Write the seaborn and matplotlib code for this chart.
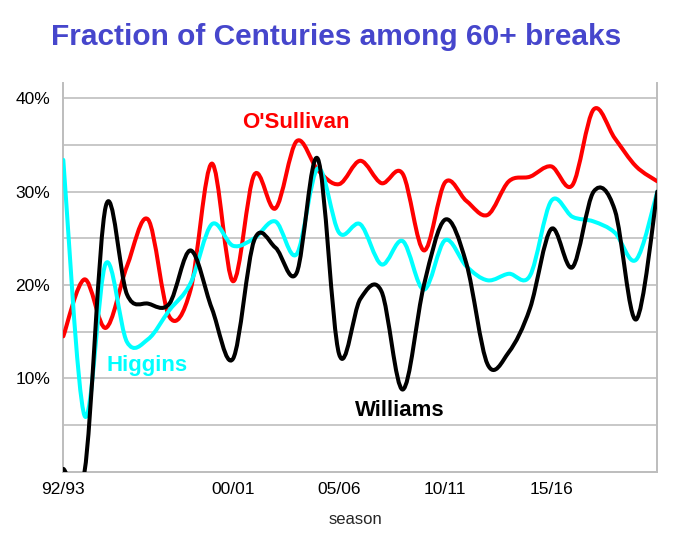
import numpy as np
import pandas as pd
import matplotlib
matplotlib.use("Agg")
import matplotlib.pyplot as plt
import seaborn as sns
from matplotlib.path import Path
from matplotlib.patches import PathPatch

# ---------------- data ----------------
seasons = ["92/93", "93/94", "94/95", "95/96", "96/97", "97/98", "98/99", "99/00",
           "00/01", "01/02", "02/03", "03/04", "04/05", "05/06", "06/07", "07/08",
           "08/09", "09/10", "10/11", "11/12", "12/13", "13/14", "14/15", "15/16",
           "16/17", "17/18", "18/19", "19/20", "20/21"]

osullivan = [14.5, 20.6, 15.4, 22.0, 27.0, 16.6, 19.5, 33.0, 20.4, 31.8,
             28.2, 35.4, 32.3, 30.8, 33.3, 30.9, 31.9, 23.7, 31.0, 29.0,
             27.5, 31.1, 31.6, 32.7, 30.7, 38.8, 35.7, 32.7, 31.1]

higgins = [33.4, 6.0, 22.3, 13.9, 14.2, 17.3, 20.2, 26.5, 24.2, 25.0,
           26.8, 23.3, 32.5, 25.6, 26.5, 22.2, 24.7, 19.5, 24.8, 22.0,
           20.5, 21.2, 21.0, 29.0, 27.3, 26.8, 25.6, 22.7, 30.0]

williams = [0.3, 0.0, 28.4, 19.0, 18.0, 18.0, 23.7, 17.5, 12.1, 24.8,
            24.0, 21.3, 33.5, 12.6, 18.5, 19.3, 8.8, 20.0, 27.0, 22.3,
            11.5, 12.8, 17.5, 26.0, 21.9, 30.0, 28.0, 16.3, 30.0]

players = ["O'Sullivan", "Higgins", "Williams"]
colors = ["#FF0000", "#00FFFF", "#000000"]
xtick_labels = ["92/93", "00/01", "05/06", "10/11", "15/16"]
ytick_values = [10, 20, 30, 40]
ytick_labels = ["10%", "20%", "30%", "40%"]

title = "Fraction of Centuries among 60+ breaks"

# ---------------- frame ----------------
n = len(seasons)
idx = np.arange(n)
df = pd.DataFrame({
    "idx": np.tile(idx, 3),
    "season": seasons * 3,
    "player": np.repeat(players, n),
    "value": osullivan + higgins + williams,
})

sns.set_theme(style="white")
plt.rcParams["font.family"] = ["Liberation Sans", "DejaVu Sans"]

W, H = 680, 535
fig = plt.figure(figsize=(W / 100, H / 100), dpi=100)
left, right, top, bottom = 63.3, 657.3, 83.3, 471.7
ax = fig.add_axes([left / W, 1 - bottom / H, (right - left) / W, (bottom - top) / H])

sns.lineplot(data=df, x="idx", y="value", hue="player", hue_order=players,
             palette=dict(zip(players, colors)), linewidth=2.9, legend=False,
             ax=ax, sort=True)


def smooth_path(x, y):
    """Catmull-Rom style smoothed line (as spreadsheet 'smoothed line')."""
    m = len(x)
    verts = [(x[0], y[0])]
    codes = [Path.MOVETO]
    for i in range(m - 1):
        xp, yp = (x[i - 1], y[i - 1]) if i > 0 else (x[i], y[i])
        xn, yn = (x[i + 2], y[i + 2]) if i + 2 < m else (x[i + 1], y[i + 1])
        c1 = (x[i] + (x[i + 1] - xp) / 6.0, y[i] + (y[i + 1] - yp) / 6.0)
        c2 = (x[i + 1] - (xn - x[i]) / 6.0, y[i + 1] - (yn - y[i]) / 6.0)
        verts += [c1, c2, (x[i + 1], y[i + 1])]
        codes += [Path.CURVE4] * 3
    return Path(verts, codes)


# replace seaborn's straight segments by the smoothed rendering of the same data
for k, line in enumerate(list(ax.lines)):
    xy = line.get_xydata()
    col = line.get_color()
    lw = line.get_linewidth()
    line.remove()
    patch = PathPatch(smooth_path(xy[:, 0], xy[:, 1]), facecolor="none",
                      edgecolor=col, linewidth=lw, capstyle="round",
                      joinstyle="round", zorder=3 + k)
    ax.add_patch(patch)

ax.set_xlim(0, n - 1)
ax.set_ylim(0, 41.6)

# y axis
grid_col = "#C8C8C8"
spine_col = "#BDBDBD"
ax.set_yticks(ytick_values)
ax.set_yticklabels(ytick_labels)
ax.set_yticks([5, 15, 25, 35], minor=True)
ax.yaxis.grid(True, which="both", color=grid_col, linewidth=1.4)
ax.set_axisbelow(True)
ax.tick_params(axis="y", which="both", direction="out", length=6, width=1.4,
               color=grid_col, labelsize=12.5, pad=3.5, labelcolor="black")

# x axis
major_pos = [seasons.index(s) for s in xtick_labels]
ax.set_xticks(major_pos)
ax.set_xticklabels(xtick_labels)
ax.set_xticks(idx, minor=True)
ax.tick_params(axis="x", which="major", direction="inout", length=9, width=1.0,
               color="black", labelsize=12.5, pad=3, labelcolor="black")
ax.tick_params(axis="x", which="minor", direction="out", length=6, width=1.4,
               color=grid_col)
ax.set_xlabel("season", fontsize=12)
ax.xaxis.set_label_coords((355 - left) / (right - left), -(519 - bottom) / (bottom - top))
ax.xaxis.label.set_verticalalignment("center")
ax.set_ylabel("")

for s in ["left", "right", "bottom"]:
    ax.spines[s].set_color(spine_col)
    ax.spines[s].set_linewidth(1.4)
ax.spines["top"].set_visible(False)


def px2data(px, py):
    return (px - left) / (right - left) * (n - 1), (bottom - py) / (bottom - top) * 41.6


# series labels
for name, col, (px, py) in zip(players, colors, [(296, 128.3), (146.8, 370.7), (400, 416)]):
    xd, yd = px2data(px, py)
    ax.text(xd, yd, name, color=col, fontsize=16, fontweight="bold",
            ha="center", va="baseline", zorder=10)

fig.text(336 / W, 1 - 45 / H, title, ha="center", va="baseline", fontsize=21.5,
         fontweight="bold", color="#4646CC")

fig.savefig("out.png", dpi=100, facecolor="white")
